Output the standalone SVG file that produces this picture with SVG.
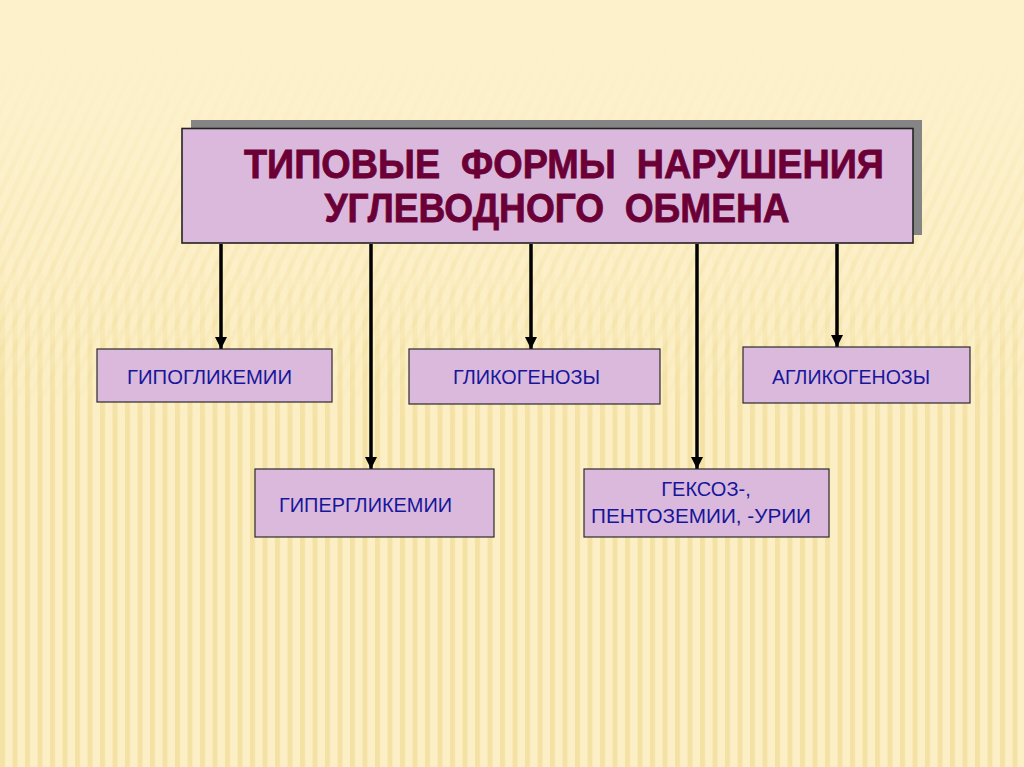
<svg xmlns="http://www.w3.org/2000/svg" width="1024" height="767" viewBox="0 0 1024 767">
<style>
.box{fill:#dbb9dc;stroke:#2a2a2a;stroke-width:1.2}
.lbl{font-family:"Liberation Sans",Arial,sans-serif;font-size:20px;fill:#16169a}
.title{font-family:"Liberation Sans",Arial,sans-serif;font-weight:bold;font-size:40px;fill:#6b0036;stroke:#6b0036;stroke-width:0.8}
.conn{stroke:#000;stroke-width:3.5;fill:none}
</style>
<defs>
<pattern id="vstripes" width="12.5" height="20" patternUnits="userSpaceOnUse">
<rect width="12.5" height="20" fill="#fcefc6"/>
<rect x="0" width="5" height="20" fill="#efd88f" opacity="0.6"/>
</pattern>
<pattern id="dstripes" width="12.5" height="20" patternUnits="userSpaceOnUse" patternTransform="skewX(-25)">
<rect width="12.5" height="20" fill="#fcefc6"/>
<rect x="0" width="5" height="20" fill="#f2dea0" opacity="0.55"/>
</pattern>
<linearGradient id="fadeTop" x1="0" y1="0" x2="0" y2="1">
<stop offset="0" stop-color="#fdf1cc" stop-opacity="1"/>
<stop offset="0.14" stop-color="#fdf1cc" stop-opacity="0.85"/>
<stop offset="0.45" stop-color="#fdf1cc" stop-opacity="0"/>
</linearGradient>
<linearGradient id="diagMask" x1="0" y1="0" x2="0" y2="1">
<stop offset="0.1" stop-color="#fff"/>
<stop offset="0.3" stop-color="#fff"/>
<stop offset="0.55" stop-color="#000"/>
</linearGradient>
<mask id="topMask"><rect width="1024" height="767" fill="url(#diagMask)"/></mask>
<marker id="arr" viewBox="0 0 12 12" refX="12" refY="6" markerWidth="12" markerHeight="12" markerUnits="userSpaceOnUse" orient="auto">
<path d="M0,0 L12,6 L0,12 Z" fill="#000"/>
</marker>
</defs>
<g id="background">
<rect width="1024" height="767" fill="url(#vstripes)"/>
<rect width="1024" height="767" fill="url(#dstripes)" mask="url(#topMask)"/>
<rect width="1024" height="767" fill="url(#fadeTop)"/>
</g>
<g id="connectors">
<line class="conn" x1="221" y1="244" x2="221" y2="349" marker-end="url(#arr)"/>
<line class="conn" x1="371" y1="244" x2="371" y2="469" marker-end="url(#arr)"/>
<line class="conn" x1="531" y1="244" x2="531" y2="349" marker-end="url(#arr)"/>
<line class="conn" x1="697" y1="244" x2="697" y2="469" marker-end="url(#arr)"/>
<line class="conn" x1="837" y1="244" x2="837" y2="347" marker-end="url(#arr)"/>
</g>
<g id="main">
<rect x="191" y="120" width="731" height="115" fill="#858585"/>
<rect x="182" y="128.5" width="731" height="114.5" fill="#dbb9dc" stroke="#222" stroke-width="1.6"/>
<text class="title" x="564" y="178" text-anchor="middle" textLength="640" lengthAdjust="spacingAndGlyphs" xml:space="preserve">ТИПОВЫЕ  ФОРМЫ  НАРУШЕНИЯ</text>
<text class="title" x="557" y="222" text-anchor="middle" textLength="465" lengthAdjust="spacingAndGlyphs" xml:space="preserve">УГЛЕВОДНОГО  ОБМЕНА</text>
</g>
<g id="hypoglycemia">
<rect class="box" x="97" y="349" width="235" height="53"/>
<text class="lbl" x="127" y="384" textLength="165" lengthAdjust="spacingAndGlyphs">ГИПОГЛИКЕМИИ</text>
</g>
<g id="glycogenoses">
<rect class="box" x="409" y="349" width="251" height="55"/>
<text class="lbl" x="453" y="384" textLength="147" lengthAdjust="spacingAndGlyphs">ГЛИКОГЕНОЗЫ</text>
</g>
<g id="aglycogenoses">
<rect class="box" x="743" y="347" width="227" height="56"/>
<text class="lbl" x="772" y="384" textLength="158" lengthAdjust="spacingAndGlyphs">АГЛИКОГЕНОЗЫ</text>
</g>
<g id="hyperglycemia">
<rect class="box" x="255" y="469" width="239" height="68"/>
<text class="lbl" x="279" y="512" textLength="173" lengthAdjust="spacingAndGlyphs">ГИПЕРГЛИКЕМИИ</text>
</g>
<g id="hexosemia">
<rect class="box" x="584" y="469" width="245" height="68"/>
<text class="lbl" x="706" y="496" text-anchor="middle">ГЕКСОЗ-,</text>
<text class="lbl" x="701" y="523" text-anchor="middle" textLength="220" lengthAdjust="spacingAndGlyphs">ПЕНТОЗЕМИИ, -УРИИ</text>
</g>
</svg>
